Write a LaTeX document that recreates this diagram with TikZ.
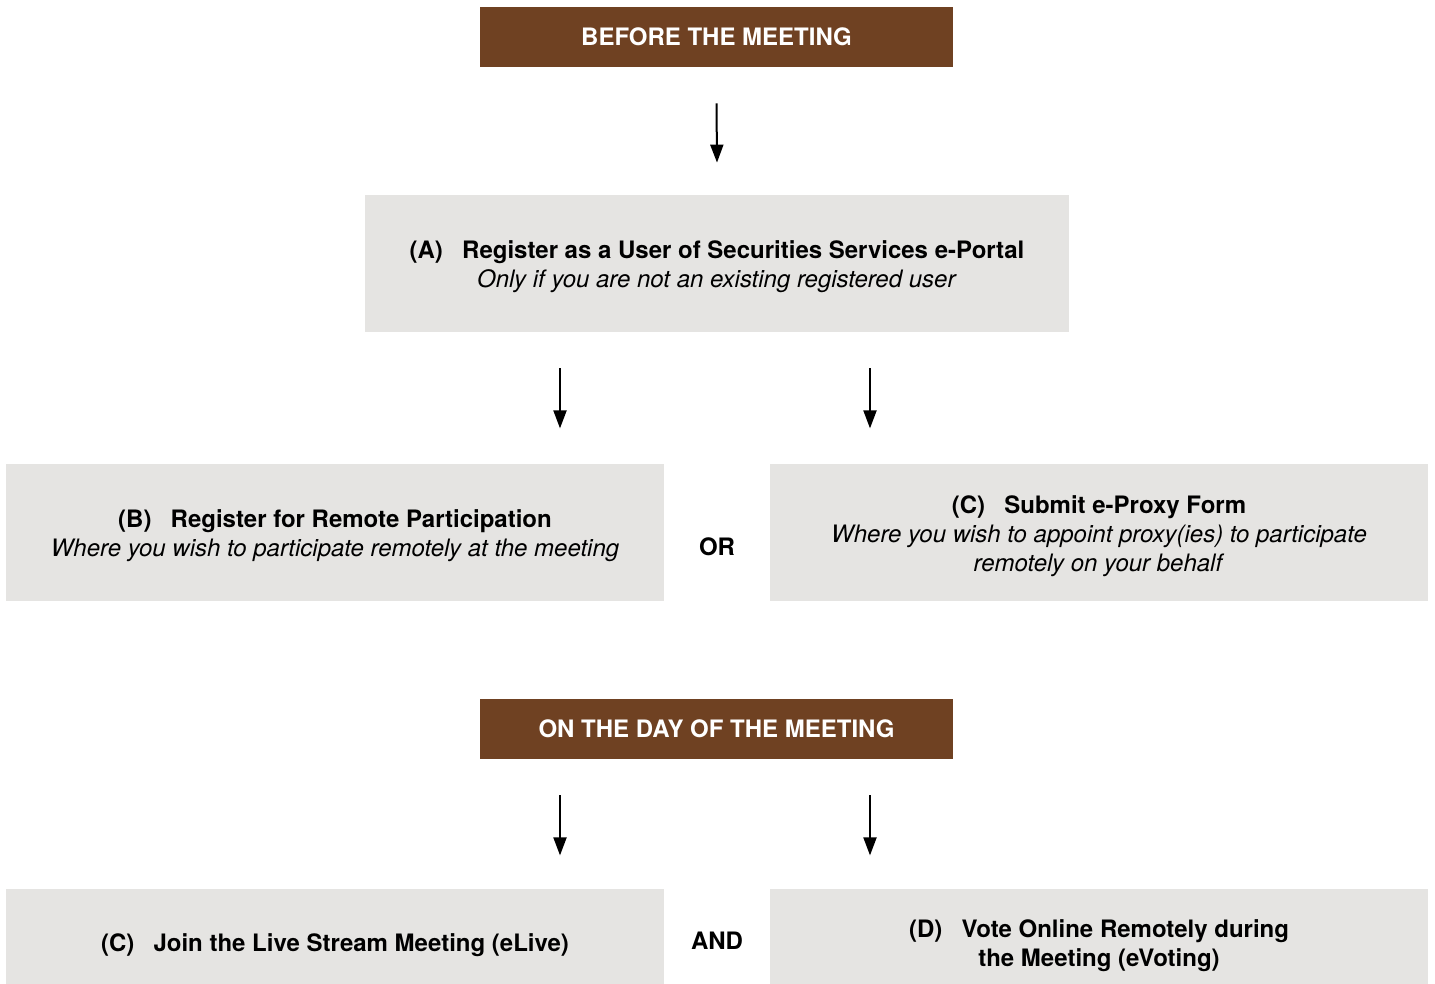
\documentclass[tikz,border=0pt]{standalone}
\usepackage{fontspec}
\setmainfont{TeX Gyre Heros}
\usetikzlibrary{arrows.meta}
\definecolor{brownhead}{HTML}{6F4122}
\definecolor{greybox}{HTML}{E5E4E2}
\newcommand{\toproom}{\rule{0pt}{12.5pt}}
\newcommand{\tag}[1]{\toproom\textbf{(#1)\hspace{0.8em}}}
\tikzset{
  headbox/.style={fill=brownhead, text=white, font=\bfseries\fontsize{12}{14}\selectfont,
    minimum width=236.5pt, minimum height=30pt, inner sep=0pt},
  stepbox/.style={fill=greybox, font=\fontsize{12}{14.5}\selectfont, align=center,
    minimum width=329pt, minimum height=68.5pt, inner sep=0pt},
  joinword/.style={font=\bfseries\fontsize{12}{14}\selectfont},
  arr/.style={line width=1pt, -{Triangle[length=9pt,width=6.5pt]}}
}
\begin{document}
\begin{tikzpicture}[x=0.5pt,y=-0.5pt]
\useasboundingbox (0,0) rectangle (1435,984);
% before the meeting
\node[headbox] (before) at (716.5,37) {BEFORE THE MEETING};
\node[stepbox, minimum width=352pt] (regA) at (717,263.5)
  {\tag{A}\textbf{Register as a User of Securities Services e-Portal}\\
   \textit{Only if you are not an existing registered user}};
\node[stepbox] (regB) at (335,532.5)
  {\tag{B}\textbf{Register for Remote Participation}\\
   \textit{Where you wish to participate remotely at the meeting}};
\node[stepbox] (proxy) at (1099,532.5)
  {\tag{C}\textbf{Submit e-Proxy Form}\\
   \textit{Where you wish to appoint proxy(ies) to participate}\\
   \textit{remotely on your behalf}};
\node[joinword] (or) at (717,547) {OR};
\draw[arr] ([yshift=-18pt]before.south) -- ([yshift=16pt]regA.north);
\draw[arr] ([xshift=-78.5pt,yshift=-18pt]regA.south) -- ([xshift=-78.5pt,yshift=-48pt]regA.south);
\draw[arr] ([xshift=76.5pt,yshift=-18pt]regA.south) -- ([xshift=76.5pt,yshift=-48pt]regA.south);
% on the day
\node[headbox] (day) at (716.5,729) {ON THE DAY OF THE MEETING};
\node[stepbox, minimum height=53pt] (live) at (335,942)
  {\tag{C}\textbf{Join the Live Stream Meeting (eLive)}};
\node[stepbox, minimum height=53pt] (vote) at (1099,942)
  {\tag{D}\textbf{Vote Online Remotely during}\\
   \textbf{the Meeting (eVoting)}};
\node[joinword] (and) at (717,941) {AND};
\draw[arr] ([xshift=-78.25pt,yshift=-18pt]day.south) -- ([xshift=-78.25pt,yshift=-48pt]day.south);
\draw[arr] ([xshift=76.75pt,yshift=-18pt]day.south) -- ([xshift=76.75pt,yshift=-48pt]day.south);
\end{tikzpicture}
\end{document}
